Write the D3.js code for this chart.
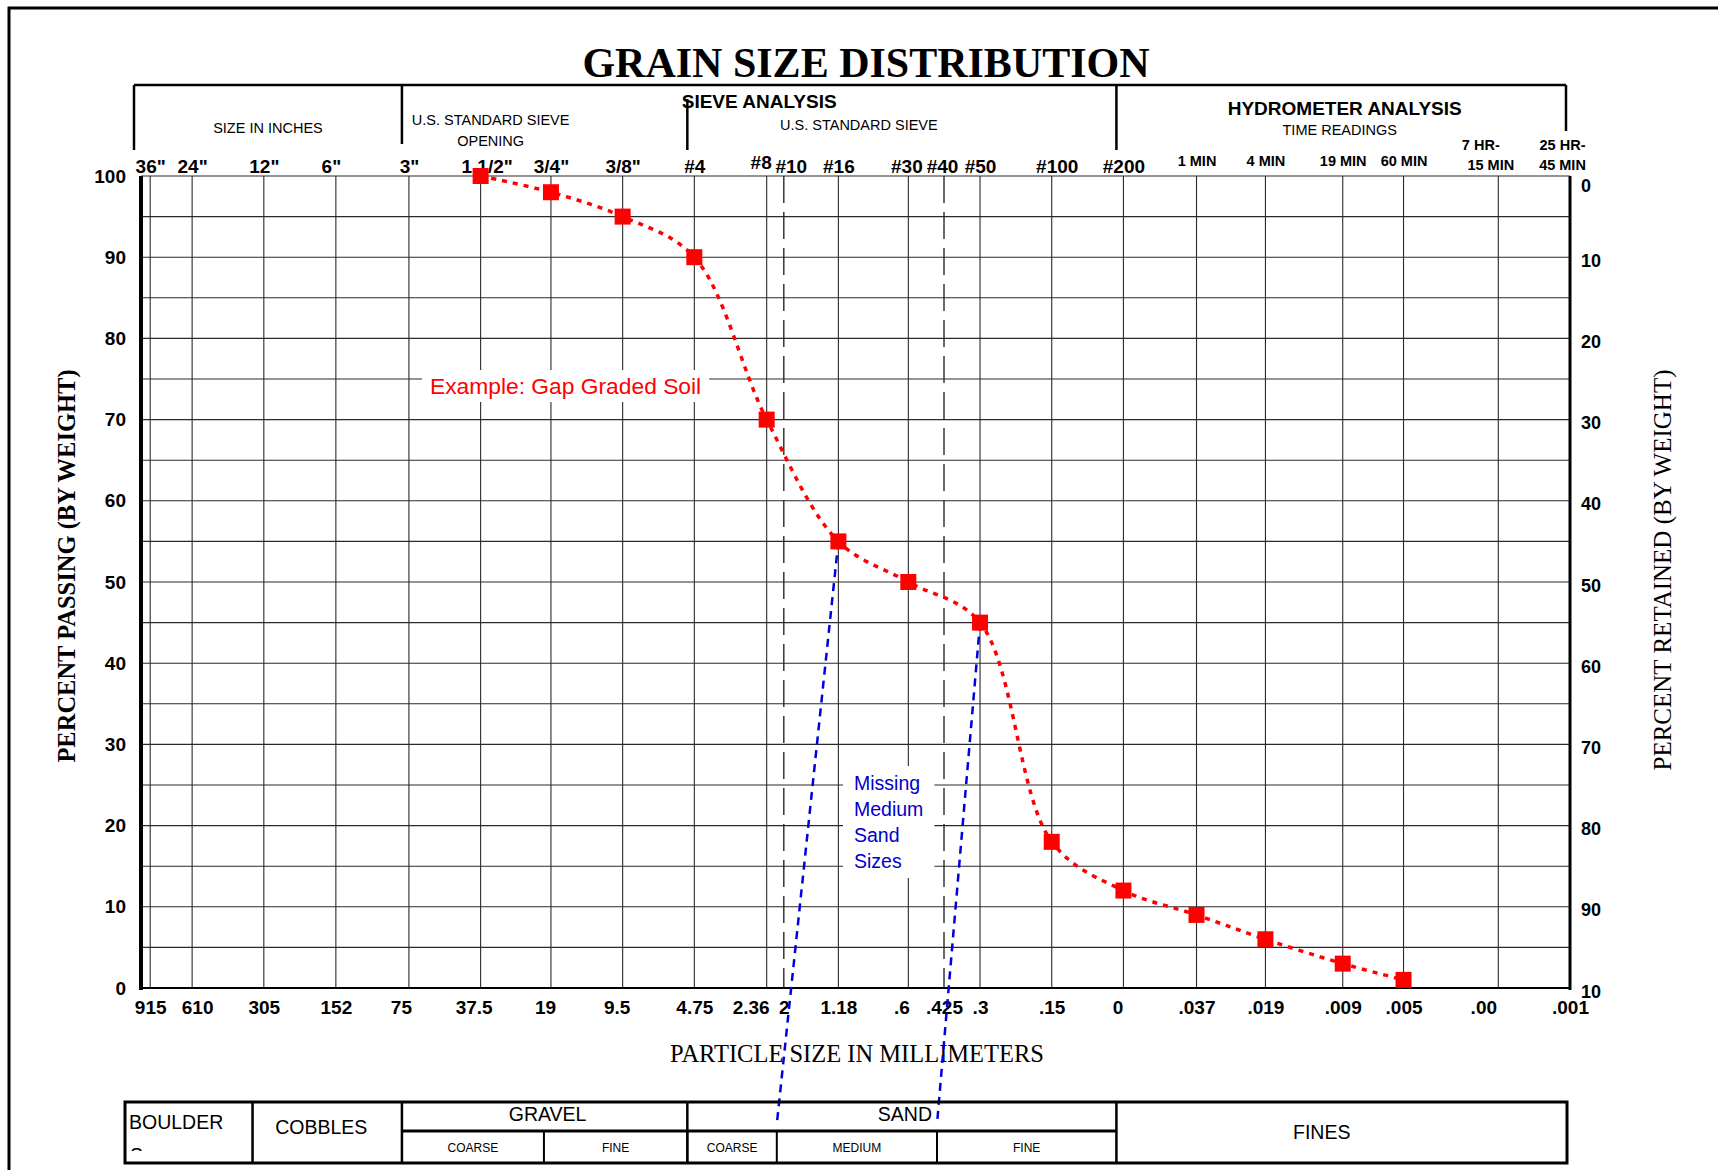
<!DOCTYPE html>
<html>
<head>
<meta charset="utf-8">
<script src="https://cdn.jsdelivr.net/npm/d3@7"></script>
<style>
body { margin: 0; background: #fff; }
svg { display: block; }
</style>
</head>
<body>
<div class="chart"></div>
<script>
// particle sizes of the grid (mm) and their labels
const sizesMM = [915, 610, 305, 152, 75, 37.5, 19, 9.5, 4.75, 2.36, 2, 1.18, 0.6, 0.425, 0.3, 0.15, 0.075, 0.037, 0.019, 0.009, 0.005, 0.002, 0.001];
const mmLabels = ["915", "610", "305", "152", "75", "37.5", "19", "9.5", "4.75", "2.36", "2", "1.18", ".6", ".425", ".3", ".15", "0", ".037", ".019", ".009", ".005", ".00", ".001"];
const topLabels = ['36"', '24"', '12"', '6"', '3"', '1 1/2"', '3/4"', '3/8"', "#4", "#8", "#10", "#16", "#30", "#40", "#50", "#100", "#200", "1 MIN", "4 MIN", "19 MIN", "60 MIN", "7 HR-|15 MIN", "25 HR-|45 MIN"];

const passingTicks = [0, 10, 20, 30, 40, 50, 60, 70, 80, 90, 100];
const retainedTicks = [0, 10, 20, 30, 40, 50, 60, 70, 80, 90, 100];
const retainedLabels = ["0", "10", "20", "30", "40", "50", "60", "70", "80", "90", "10"];

// gap graded sample
const sampleSize = [37.5, 19, 9.5, 4.75, 2.36, 1.18, 0.6, 0.3, 0.15, 0.075, 0.037, 0.019, 0.009, 0.005];
const samplePassing = [100, 98, 95, 90, 70, 55, 50, 45, 18, 12, 9, 6, 3, 1];

// header sections and soil classification table
const headerBounds = [1000, 75, 4.75, 0.075, 0.001];
const classNames = ["BOULDER", "COBBLES", "GRAVEL", "SAND", "FINES"];
const classBounds = [1000, 300, 75, 4.75, 0.075, 0.001];
const subNames = ["COARSE", "FINE", "COARSE", "MEDIUM", "FINE"];
const subBounds = [75, 19, 4.75, 2, 0.425, 0.075];
const missingSand = [2, 0.425];
const missingText = ["Missing", "Medium", "Sand", "Sizes"];

const sans = "Liberation Sans, Arial, sans-serif";
const serif = "Liberation Serif, Times New Roman, serif";

const svg = d3.select(".chart").append("svg")
  .attr("width", 1718)
  .attr("height", 1170)
  .style("background", "#fff");

const x = d3.scaleLog().domain([1000, 0.001]).range([141, 1570]);
const y = d3.scaleLinear().domain([0, 100]).range([988, 176]);
const yRet = d3.scaleLinear().domain([100, 0]).range([988, 176]);
const bx = v => x(v) - 7;   // boxes sit a little left of the grid

// page frame
svg.append("path").attr("d", "M9,1170 V8 H1718")
  .attr("fill", "none").attr("stroke", "#000").attr("stroke-width", 3);

svg.append("text")
  .attr("x", 866).attr("y", 77)
  .attr("text-anchor", "middle")
  .attr("font-family", serif).attr("font-weight", "bold").attr("font-size", 42)
  .text("GRAIN SIZE DISTRIBUTION");

// header box
const hdr = svg.append("g").attr("stroke", "#000").attr("stroke-width", 2.5);
hdr.append("line").attr("x1", bx(1000)).attr("x2", bx(0.001) + 3).attr("y1", 85).attr("y2", 85);
hdr.selectAll(".hv").data(headerBounds).enter().append("line")
  .attr("x1", d => d === 0.001 ? bx(d) + 3 : bx(d)).attr("x2", d => d === 0.001 ? bx(d) + 3 : bx(d))
  .attr("y1", d => d === 4.75 ? 99 : 85)
  .attr("y2", d => d === 0.001 ? 131 : d === 75 ? 144 : 150);

function htext(tx, ty, str, size, bold) {
  svg.append("text").attr("x", tx).attr("y", ty).attr("text-anchor", "middle")
    .attr("font-family", sans).attr("font-size", size)
    .attr("font-weight", bold ? "bold" : "normal").text(str);
}
htext((bx(1000) + bx(75)) / 2, 133, "SIZE IN INCHES", 14.5);
htext((bx(75) + bx(4.75)) / 2 - 54, 125, "U.S. STANDARD SIEVE", 14.5);
htext((bx(75) + bx(4.75)) / 2 - 54, 146, "OPENING", 14.5);
htext((bx(75) + bx(0.075)) / 2, 108, "SIEVE ANALYSIS", 19, true);
htext((bx(4.75) + bx(0.075)) / 2 - 43, 130, "U.S. STANDARD SIEVE", 14.5);
htext((bx(0.075) + bx(0.001)) / 2 + 5, 115, "HYDROMETER ANALYSIS", 19, true);
htext((bx(0.075) + bx(0.001)) / 2, 135, "TIME READINGS", 14.5);

// grid
const grid = svg.append("g").attr("stroke", "#2a2a2a").attr("stroke-width", 1.1);
grid.selectAll(".hg").data(y.ticks(20)).enter().append("line")
  .attr("x1", x(1000)).attr("x2", x(0.001))
  .attr("y1", d => y(d)).attr("y2", d => y(d));
grid.selectAll(".vg").data(sizesMM.filter(d => !missingSand.includes(d))).enter().append("line")
  .attr("x1", d => x(d)).attr("x2", d => x(d))
  .attr("y1", y(100)).attr("y2", y(0));
grid.selectAll(".vd").data(missingSand).enter().append("line")
  .attr("x1", d => x(d)).attr("x2", d => x(d))
  .attr("y1", y(100)).attr("y2", y(0))
  .attr("stroke-dasharray", "27,9")
  .attr("stroke-width", 1.4);

// annotations with white backing
function backed(g, padX, padY) {
  const b = g.node().getBBox();
  g.insert("rect", ":first-child")
    .attr("x", b.x - padX).attr("y", b.y - padY)
    .attr("width", b.width + 2 * padX).attr("height", b.height + 2 * padY)
    .attr("fill", "#fff");
}
const ex = svg.append("g");
ex.append("text").attr("x", 430).attr("y", 394)
  .attr("font-family", sans).attr("font-size", 22.8).attr("fill", "#ff0000")
  .text("Example: Gap Graded Soil");
backed(ex, 8, 3);

const ms = svg.append("g");
ms.selectAll("text").data(missingText).enter().append("text")
  .attr("x", 854)
  .attr("y", (d, i) => 790 + i * 26)
  .attr("font-family", sans).attr("font-size", 19.5).attr("fill", "#0000cc")
  .text(d => d);
backed(ms, 11, 6);

// plot frame
svg.append("line").attr("x1", x(1000)).attr("x2", x(1000)).attr("y1", y(100)).attr("y2", y(0) + 2)
  .attr("stroke", "#000").attr("stroke-width", 4);
svg.append("line").attr("x1", x(0.001)).attr("x2", x(0.001)).attr("y1", y(100)).attr("y2", y(0) + 2)
  .attr("stroke", "#000").attr("stroke-width", 3);
svg.append("line").attr("x1", x(1000)).attr("x2", x(0.001)).attr("y1", y(0)).attr("y2", y(0))
  .attr("stroke", "#000").attr("stroke-width", 2);

// left and right labels
svg.append("g")
  .attr("transform", `translate(${x(1000)},0)`)
  .call(d3.axisLeft(y).tickValues(passingTicks).tickSize(0).tickPadding(15))
  .attr("font-family", sans).attr("font-size", 19).attr("font-weight", "bold")
  .call(g => g.select(".domain").remove());

svg.append("g")
  .attr("transform", `translate(${x(0.001)},0)`)
  .call(d3.axisRight(yRet).tickValues(retainedTicks).tickFormat((d, i) => retainedLabels[i]).tickSize(0).tickPadding(11))
  .attr("font-family", sans).attr("font-size", 18).attr("font-weight", "bold")
  .call(g => g.select(".domain").remove())
  .selectAll("text").attr("dy", (d, i) => i === 0 ? "0.85em" : "0.5em");

// bottom mm labels
const bottomNudge = {"610": 5, "75": -8, "37.5": -7, "19": -6, "9.5": -6, "2.36": -16, ".6": -7, "0": -6, ".00": -15};
svg.append("g")
  .attr("transform", `translate(0,${y(0)})`)
  .call(d3.axisBottom(x).tickValues(sizesMM).tickFormat((d, i) => mmLabels[i]).tickSize(0).tickPadding(13))
  .attr("font-family", sans).attr("font-size", 19).attr("font-weight", "bold")
  .call(g => g.select(".domain").remove())
  .selectAll("text").attr("dx", (d, i) => bottomNudge[mmLabels[i]] || 0);

// top sieve / time labels
const topNudge = {'6"': -5, '1 1/2"': 6, "#8": -6, "#10": 7, "#30": -2, "#40": -2, "#100": 5, "7 HR-|15 MIN": -18, "25 HR-|45 MIN": -8};
svg.append("g")
  .attr("transform", `translate(0,${y(100)})`)
  .call(d3.axisTop(x).tickValues(sizesMM).tickFormat((d, i) => topLabels[i]).tickSize(0).tickPadding(3))
  .attr("font-family", sans).attr("font-size", 19).attr("font-weight", "bold")
  .call(g => g.select(".domain").remove())
  .selectAll("text")
  .attr("dx", (d, i) => topNudge[topLabels[i]] || 0)
  .each(function(d, i) {
    const lab = topLabels[i];
    const t = d3.select(this);
    if (i >= 17) t.attr("font-size", 14.5);
    if (lab.includes("|")) {
      const parts = lab.split("|");
      const dx = topNudge[lab] || 0;
      t.text(null).attr("y", -6).attr("dx", null);
      t.append("tspan").attr("x", dx).attr("dy", -20).text(parts[0]);
      t.append("tspan").attr("x", dx + (i === 21 ? 10 : 0)).attr("dy", 20).text(parts[1]);
    } else if (i >= 17) {
      t.attr("y", -10);
    } else if (lab === "#8") {
      t.attr("y", -7);
    }
  });

// axis titles
svg.append("text")
  .attr("transform", `translate(75,${(y(0) + y(100)) / 2 - 16}) rotate(-90)`)
  .attr("text-anchor", "middle")
  .attr("font-family", serif).attr("font-weight", "bold").attr("font-size", 24.5)
  .text("PERCENT PASSING (BY WEIGHT)");
svg.append("text")
  .attr("transform", `translate(1671,${(y(0) + y(100)) / 2 - 12}) rotate(-90)`)
  .attr("text-anchor", "middle")
  .attr("font-family", serif).attr("font-size", 25)
  .text("PERCENT RETAINED (BY WEIGHT)");
svg.append("text")
  .attr("x", 857).attr("y", 1062)
  .attr("text-anchor", "middle")
  .attr("font-family", serif).attr("font-size", 24.5)
  .text("PARTICLE SIZE IN MILLIMETERS");

// gradation curve
const sample = sampleSize.map((s, i) => ({size: s, pass: samplePassing[i]}));
svg.append("path")
  .datum(sample)
  .attr("fill", "none")
  .attr("stroke", "#ff0000")
  .attr("stroke-width", 3.5)
  .attr("stroke-dasharray", "5,6")
  .attr("d", d3.line().x(d => x(d.size)).y(d => y(d.pass)).curve(d3.curveCatmullRom.alpha(0.5)));

// blue leader lines from the curve to the medium sand cell
const tableTop = 1102, tableMid = 1131, tableBot = 1163;
const leaders = [sample[5], sample[7]];
svg.selectAll(".leader").data(leaders).enter().append("line")
  .attr("x1", d => x(d.size)).attr("y1", d => y(d.pass))
  .attr("x2", (d, i) => bx(missingSand[i])).attr("y2", tableTop + 22)
  .attr("stroke", "#0000dd").attr("stroke-width", 2.5)
  .attr("stroke-dasharray", "8,6");

svg.selectAll(".pt").data(sample).enter().append("rect")
  .attr("x", d => x(d.size) - 8).attr("y", d => y(d.pass) - 8)
  .attr("width", 16).attr("height", 16)
  .attr("fill", "#ff0000");

// classification table
const tx = v => v === 300 ? bx(v) - 6 : bx(v);
const tb = svg.append("g").attr("stroke", "#000");
tb.append("rect")
  .attr("x", bx(1000) - 9).attr("y", tableTop)
  .attr("width", bx(0.001) + 4 - (bx(1000) - 9)).attr("height", tableBot - tableTop)
  .attr("fill", "none").attr("stroke-width", 3);
tb.selectAll(".cv").data(classBounds.slice(1, -1)).enter().append("line")
  .attr("x1", d => tx(d)).attr("x2", d => tx(d))
  .attr("y1", tableTop).attr("y2", tableBot).attr("stroke-width", 2.5);
tb.append("line").attr("x1", bx(75)).attr("x2", bx(0.075))
  .attr("y1", tableMid).attr("y2", tableMid).attr("stroke-width", 3);
tb.selectAll(".sv").data(subBounds.slice(1, -1)).enter().append("line")
  .attr("x1", d => bx(d)).attr("x2", d => bx(d))
  .attr("y1", tableMid).attr("y2", tableBot).attr("stroke-width", 2);

const ct = svg.append("g").attr("font-family", sans).attr("text-anchor", "middle");
classNames.forEach((name, i) => {
  const x0 = i === 0 ? bx(1000) - 9 : tx(classBounds[i]);
  const x1 = tx(classBounds[i + 1]);
  const t = ct.append("text").attr("font-size", 19.5).text(name);
  if (name === "BOULDER") {
    t.attr("x", x0 + 4).attr("y", 1129).attr("text-anchor", "start");
  } else if (name === "GRAVEL" || name === "SAND") {
    t.attr("x", (x0 + x1) / 2 + 3).attr("y", 1121);
  } else if (name === "FINES") {
    t.attr("x", (x0 + x1) / 2 - 18).attr("y", 1139);
  } else {
    t.attr("x", (x0 + x1) / 2 - 6).attr("y", 1134);
  }
});
// wrapped "S" of BOULDERS, cut off by its text box
svg.append("clipPath").attr("id", "bclip").append("rect")
  .attr("x", bx(1000) - 9).attr("y", tableTop).attr("width", 120).attr("height", 49);
ct.append("text").attr("clip-path", "url(#bclip)")
  .attr("x", bx(1000) - 4).attr("y", 1162).attr("text-anchor", "start")
  .attr("font-size", 19.5).text("S");

subNames.forEach((name, i) => {
  ct.append("text")
    .attr("x", (bx(subBounds[i]) + bx(subBounds[i + 1])) / 2)
    .attr("y", 1152)
    .attr("font-size", 12)
    .text(name);
});
</script>
</body>
</html>
